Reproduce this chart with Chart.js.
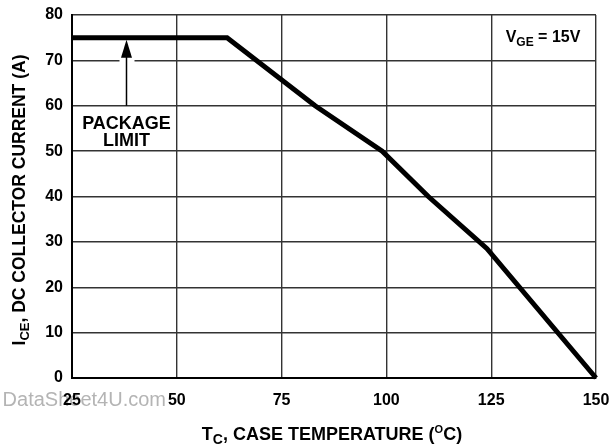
<!DOCTYPE html>
<html>
<head>
<meta charset="utf-8">
<script src="https://cdn.jsdelivr.net/npm/chart.js@4.4.1/dist/chart.umd.min.js"></script>
<style>
  html, body { margin: 0; padding: 0; background: #fff; }
  #wrap { width: 613px; height: 446px; }
</style>
</head>
<body>
<div id="wrap"><canvas id="myChart" width="613" height="446"></canvas></div>
<script>
// Data (case temperature in C, collector current in A)
const temps = [25, 62, 83, 99, 110, 124, 150];
const currents = [75, 75, 60, 50, 40, 28.5, 0];
const xTicks = [25, 50, 75, 100, 125, 150];
const yTicks = [0, 10, 20, 30, 40, 50, 60, 70, 80];

// where the "package limit" arrow points to
const arrowTemp = 38;
const arrowFrom = 60;
const arrowTo = 75;

const FONT = '"Liberation Sans", Arial, sans-serif';

// draw text made of pieces (for subscripts / superscripts)
function richText(ctx, parts, x, y) {
  let total = 0;
  parts.forEach((p) => {
    ctx.font = `bold ${p.size}px ${FONT}`;
    total += ctx.measureText(p.t).width;
  });
  let cx = x - total / 2;
  parts.forEach((p) => {
    ctx.font = `bold ${p.size}px ${FONT}`;
    ctx.fillText(p.t, cx, y + (p.dy || 0));
    cx += ctx.measureText(p.t).width;
  });
}

const extras = {
  id: 'extras',
  beforeDraw(chart) {
    const ctx = chart.ctx;
    ctx.save();
    ctx.fillStyle = '#b4b4b4';
    ctx.font = `20px ${FONT}`;
    ctx.textAlign = 'right';
    ctx.textBaseline = 'alphabetic';
    ctx.fillText('DataSheet4U.com', 166, 406);
    ctx.restore();
  },
  afterDraw(chart) {
    const ctx = chart.ctx;
    const xs = chart.scales.x;
    const ys = chart.scales.y;
    ctx.save();
    ctx.fillStyle = '#000';
    ctx.textAlign = 'left';
    ctx.textBaseline = 'alphabetic';

    // arrow
    const ax = xs.getPixelForValue(arrowTemp);
    const y0 = ys.getPixelForValue(arrowFrom);
    const y1 = ys.getPixelForValue(arrowTo);
    const gy = ys.getPixelForValue(70);
    ctx.fillStyle = '#fff';
    ctx.fillRect(ax - 7, gy - 2, 15, 4);
    ctx.strokeStyle = '#000';
    ctx.lineWidth = 1.5;
    ctx.beginPath();
    ctx.moveTo(ax, y0);
    ctx.lineTo(ax, y1 + 18);
    ctx.stroke();
    ctx.fillStyle = '#000';
    ctx.beginPath();
    ctx.moveTo(ax, y1 + 2);
    ctx.lineTo(ax - 5.5, y1 + 20);
    ctx.lineTo(ax + 5.5, y1 + 20);
    ctx.closePath();
    ctx.fill();

    // annotation
    ctx.fillStyle = '#fff';
    ctx.fillRect(ax - 46, y0 + 3, 92, 40);
    ctx.fillStyle = '#000';
    richText(ctx, [{ t: 'PACKAGE', size: 18 }], ax, y0 + 23);
    richText(ctx, [{ t: 'LIMIT', size: 18 }], ax, y0 + 40);

    richText(ctx, [
      { t: 'V', size: 16 },
      { t: 'GE', size: 12, dy: 4 },
      { t: ' = 15V', size: 16 },
    ], 543, 42);

    // x title
    richText(ctx, [
      { t: 'T', size: 18 },
      { t: 'C', size: 14, dy: 4 },
      { t: ', CASE TEMPERATURE (', size: 18 },
      { t: 'O', size: 11, dy: -7 },
      { t: 'C)', size: 18 },
    ], 332, 440);

    // y title
    ctx.translate(25, 200);
    ctx.rotate(-Math.PI / 2);
    richText(ctx, [
      { t: 'I', size: 17.5 },
      { t: 'CE', size: 13, dy: 4 },
      { t: ', DC COLLECTOR CURRENT (A)', size: 17.5 },
    ], 0, 0);
    ctx.restore();
  },
};

const ctx = document.getElementById('myChart').getContext('2d');
const data = {
  datasets: [
    {
      data: temps.map((t, i) => ({ x: t, y: currents[i] })),
      borderColor: '#000',
      borderWidth: 5,
      pointRadius: 0,
      tension: 0,
      fill: false,
      clip: false,
      borderJoinStyle: 'miter',
    },
  ],
};

const config = {
  type: 'line',
  data: data,
  options: {
    responsive: false,
    animation: false,
    devicePixelRatio: 1,
    layout: { padding: { left: 0, top: 15, right: 17, bottom: 0 } },
    plugins: { legend: { display: false }, tooltip: { enabled: false } },
    scales: {
      x: {
        type: 'linear',
        min: 25,
        max: 150,
        afterBuildTicks: (s) => { s.ticks = xTicks.map((v) => ({ value: v })); },
        afterFit: (s) => {
          s.height = 68;
          s.paddingLeft = 0;
          s.paddingRight = 0;
        },
        grid: { color: '#333', lineWidth: 1.4, drawTicks: false },
        border: { color: '#000', width: 2 },
        ticks: {
          color: '#000',
          padding: 13,
          maxRotation: 0,
          font: { family: FONT, size: 16, weight: 'bold' },
        },
      },
      y: {
        min: 0,
        max: 80,
        afterBuildTicks: (s) => { s.ticks = yTicks.map((v) => ({ value: v })); },
        afterFit: (s) => {
          s.width = 72;
          s.paddingTop = 0;
          s.paddingBottom = 0;
        },
        grid: { color: '#333', lineWidth: 1.4, drawTicks: false },
        border: { color: '#000', width: 2 },
        ticks: {
          color: '#000',
          padding: 9,
          font: { family: FONT, size: 16, weight: 'bold' },
        },
      },
    },
  },
  plugins: [extras],
};

const myChart = new Chart(ctx, config);
</script>
</body>
</html>
